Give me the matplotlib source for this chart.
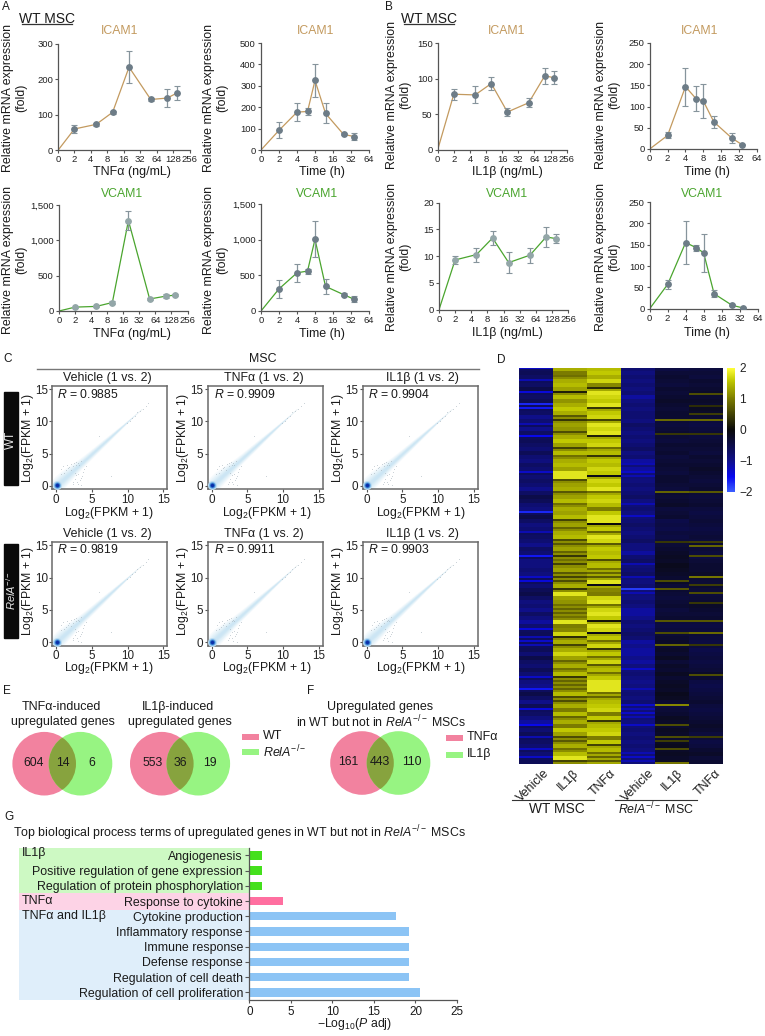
import numpy as np
import matplotlib
matplotlib.use("Agg")
import matplotlib.pyplot as plt
from matplotlib.colors import LinearSegmentedColormap
from matplotlib.patches import Circle, Rectangle

plt.rcParams['font.family'] = ['Liberation Sans', 'DejaVu Sans']
plt.rcParams['mathtext.fontset'] = 'custom'
plt.rcParams['mathtext.rm'] = 'Liberation Sans'
plt.rcParams['mathtext.it'] = 'Liberation Sans:italic'
plt.rcParams['mathtext.bf'] = 'Liberation Sans:bold'

W, H = 765, 1036

# panels A and B
dose = [1, 2, 5, 10, 20, 50, 100, 150]
hours = [1, 2, 4, 6, 8, 12, 24, 36]
dose_ticks = [1, 2, 4, 8, 16, 32, 64, 128, 256]
dose_labels = ['0', '2', '4', '8', '16', '32', '64', '128', '256']
time_ticks = [1, 2, 4, 8, 16, 32, 64]
time_labels = ['0', '2', '4', '8', '16', '32', '64']

a_icam_dose = [0, 60, 73, 107, 234, 143, 147, 161]
a_icam_dose_err = [0, 10, 4, 5, 45, 4, 25, 20]
a_icam_time = [0, 92, 177, 180, 325, 171, 73, 63]
a_icam_time_err = [0, 38, 42, 17, 75, 47, 5, 17]
a_vcam_dose = [0, 55, 65, 120, 1280, 170, 210, 225]
a_vcam_dose_err = [0, 8, 8, 15, 130, 20, 30, 15]
a_vcam_time = [0, 310, 535, 560, 1005, 345, 230, 165]
a_vcam_time_err = [0, 125, 130, 35, 250, 110, 25, 40]
b_icam_dose = [0, 78, 77, 93, 53, 66, 104, 101]
b_icam_dose_err = [0, 8, 12, 9, 6, 6, 11, 9]
b_icam_time = [0, 32, 147, 119, 113, 64, 26, 10]
b_icam_time_err = [0, 7, 45, 30, 41, 15, 12, 1]
b_vcam_dose = [0, 9.3, 10.3, 13.4, 8.8, 10.2, 13.6, 13.3]
b_vcam_dose_err = [0, 0.7, 1.3, 1.3, 2, 1.4, 1.8, 0.9]
b_vcam_time = [0, 57, 155, 143, 131, 35, 8, 2]
b_vcam_time_err = [0, 11, 50, 7, 45, 8, 2, 1]

# panel C
r_values = ['0.9885', '0.9909', '0.9904', '0.9819', '0.9911', '0.9903']
c_titles = ['Vehicle (1 vs. 2)', 'TNFα (1 vs. 2)', 'IL1β (1 vs. 2)']
band_x = [-0.6, 0, 0.5, 1, 2, 3, 4, 5, 6, 7, 8, 9, 10, 11, 12]
band_w = [1.5, 1.6, 1.6, 1.5, 1.25, 1.0, 0.85, 0.75, 0.65, 0.55, 0.42, 0.3, 0.18, 0.08, 0.03]
spot_x = [0.7, 1.0, 1.3, 1.5, 1.8, 2.1, 2.4, 2.7, 3.0, 3.4, 0.6, 1.1, 1.6, 2.0, 2.5, 2.8, 3.2,
          2.3, 2.6, 2.9, 3.1, 3.4, 3.7, 3.9, 2.4, 2.8, 3.3, 3.6, 4.1, 2.6, 3.0, 3.5,
          9.9, 10.3, 10.6, 11.0, 11.3, 11.7, 12.1, 12.5, 12.9, 7.6, 6.0]
spot_y = [2.6, 3.1, 2.4, 3.3, 2.9, 3.4, 3.0, 3.7, 3.5, 3.9, 1.9, 2.0, 2.7, 2.5, 3.6, 3.2, 3.3,
          0.3, 1.1, 0.6, 1.8, 1.2, 2.2, 2.6, 0.6, 1.6, 0.9, 1.5, 3.1, 2.0, 0.2, 0.1,
          9.8, 10.1, 10.5, 10.9, 11.4, 11.6, 12.0, 12.4, 12.9, 1.5, 7.7]

# panel D, one list per column, top row first
d_col1 = [-1.3, -.6, -.7, -1.2, -.7, -.5, -1.4, -.7, -.6, -1.7,
          -1.6, -.7, -1.0, -.8, -1.2, -1.0, -.7, -1.5, -.6, -.7,
          -.8, -.6, -.8, -.9, -.7, -.8, -1.3, -.8, -.7, -.8,
          -1.0, -.7, -.5, -.6, -.8, -.9, -1.7, -.5, -.7, -.9,
          -.8, -1.2, -.7, -.8, -1.0, -.7, -.8, -1.6, -.9, -.9,
          -.8, -.9, -1.3, -1.4, -.8, -.6, -.5, -.7, -.9, -.8,
          -1.0, -.7, -.9, -1.1, -.8, -1.4, -.6, -1.2, -1.3, -1.2,
          -.6, -.8, -.5, -.7, -.8, -.6, -.8, -1.3, -.9, -1.0,
          -1.6, -.5, -.7, -1.0, -.6, -1.4, -.7, -.9, -1.1, -1.5,
          -.8, -.6, -1.2, -.7, -.8, -1.3, -.8, -1.3, -.6]
d_col2 = [1.4, 1.0, .9, 1.4, 1.5, 1.3, .2, 1.5, 1.2, 1.4,
          1.6, 1.4, .7, .4, 1.3, 1.2, .6, 1.4, 1.6, 1.3,
          .5, 1.5, .9, 1.4, 1.5, 1.3, 1.9, 1.95, .6, 1.3,
          1.4, .7, 1.3, 1.5, .9, 1.4, 1.3, 1.5, .5, 1.3,
          .8, 1.4, 1.5, .6, .7, 1.3, .8, .4, .9, .5,
          1.3, .7, .5, .6, 1.4, .4, 1.8, 1.3, 1.2, .9,
          .8, .8, .9, 1.8, 1.0, 1.1, 1.7, .3, 1.4, .5,
          1.4, 1.7, 1.3, .8, 1.4, .9, 1.5, .4, .8, .8,
          .8, 1.5, .6, .6, 1.4, 1.0, 1.5, .8, 1.4, 1.0,
          1.6, 1.3, .6, .7, 1.4, .9, 1.5, 1.8, .5]
d_col3 = [1.5, 1.6, 1.4, 1.7, 1.1, .3, 1.8, 1.7, 1.6, 1.8,
          .4, 1.6, 1.7, .5, 1.8, 1.7, 1.8, .2, 1.6, 1.7,
          .9, 1.5, .4, 1.6, 1.5, 1.7, 1.6, -.1, 1.7, 1.6,
          1.8, .9, 1.6, 1.7, 1.5, 1.0, 1.6, 1.8, 1.9, .0,
          1.6, .8, 1.8, 1.7, .7, 1.6, 1.5, 1.6, .6, 1.5,
          .9, .8, .7, 1.95, -.1, 1.1, 1.0, 1.7, 1.8, .9,
          1.7, 1.8, 1.6, .1, 1.8, 1.7, -.1, 1.6, .9, 1.7,
          .4, 1.6, .9, 1.7, .7, 1.5, .9, 1.6, 1.95, 1.95,
          1.95, .9, .8, 1.5, 1.6, 1.7, 1.0, 1.6, .4, 1.5,
          1.6, 1.7, 1.0, 1.6, .5, 1.5, .9, .8, .7]
d_col4 = [-.8, -.9, -.8, -.9, -.8, -.9, -.8, -1.1, -.9, -.8,
          -.9, -.8, -.8, -.9, -.7, -.8, -.9, -.8, -.9, -.8,
          -.7, -.9, -.8, -1.1, -1.2, -1.1, -1.3, -1.2, -.9, -.8,
          -.9, -.8, -.7, -.9, -1.2, -.8, -.9, -1.3, -.8, -.7,
          -.8, -.9, -.8, -.7, -.9, -.9, -1.1, -.8, -.7, -1.2,
          -.8, -.7, -1.2, -.9, -.8, -1.8, -1.2, -.9, -.8, -.9,
          -1.1, -1.1, -1.0, -.8, -.9, -.8, -.7, -.8, -1.1, -1.0,
          -1.1, -1.1, -1.0, -1.1, -.9, -1.3, -.8, -.9, -1.0, -.9,
          -1.2, -.8, -.9, -.8, -1.3, -1.2, -1.3, -1.2, -.9, -1.3,
          -.8, -.9, -.8, -.9, -.8, -.9, -1.2, -1.3, -1.2]
d_col5 = [-.45, -.35, -.3, -.35, -.4, -.3, -.35, -.3, -.25, -.3,
          -.35, -.3, -.3, -.35, -.4, -.35, -.3, -.35, -.4, -.3,
          -.35, -.3, -.4, -.35, -.3, -.35, -.4, -.3, -.3, -.35,
          -.4, -.3, -.35, -.3, -.25, -.4, -.35, -.3, -.5, -.45,
          -.5, -.4, -.45, -.4, -.35, -.3, -.25, -.2, -.25, -.15,
          -.2, -.25, -.3, -.25, -.35, -.3, -.35, -.4, -.35, -.3,
          -.4, -.35, -.3, -.4, -.45, -.4, -.35, -.3, -.25, -.3,
          -.25, -.3, -.2, -.35, -.25, -.3, -.2, -.3, -.25, -.2,
          -.25, -.15, -.2, -.3, -.4, -.35, -.3, -.2, -.25, -.3,
          -.2, -.25, -.3, -.2, -.15, -.25, -.2, -.25, -.2]
d_col6 = [-.4, -.35, -.4, -.3, -.35, -.3, -.25, -.3, -.25, -.3,
          -.2, -.25, -.3, -.4, -.45, -.4, -.35, -.4, -.35, -.3,
          -.35, -.4, -.3, -.35, -.3, -.25, -.3, -.35, -.4, -.35,
          -.3, -.35, -.4, -.35, -.3, -.4, -.45, -.4, -.35, -.4,
          -.45, -.4, -.35, -.4, -.3, -.35, -.4, -.45, -.35, -.3,
          -.3, -.25, -.3, -.35, -.3, -.35, -.4, -.35, -.3, -.25,
          -.3, -.35, -.3, -.4, -.45, -.4, -.35, -.4, -.45, -.4,
          -.5, -.45, -.4, -.45, -.4, -.35, -.25, -.3, -.45, -.5,
          -.45, -.4, -.35, -.3, -.4, -.45, -.4, -.35, -.3, -.25,
          -.3, -.4, -.35, -.45, -.4, -.3, -.25, -.35, -.3]
# thin one-row stripes on the 198 row grid
d_col5_rows = [26, 33, 62, 87, 106, 110, 126, 132, 138, 168, 178, 184, 186, 190, 197]
d_col5_vals = [.85, .4, .8, .4, .6, .7, .7, .6, .8, 1.1, .6, .6, .45, .6, .95]
d_col6_rows = [13, 19, 23, 26, 33, 62, 87, 89, 94, 104, 108, 112, 117, 126, 132, 138, 153, 184]
d_col6_vals = [.6, .3, .45, .85, .4, .7, .45, .8, .6, .95, .45, .6, .4, .7, .85, .4, .6, .45]
d_labels = ['Vehicle', 'IL1β', 'TNFα', 'Vehicle', 'IL1β', 'TNFα']
cbar_ticks = [2, 1, 0, -1, -2]

# panel G
g_terms = ['Angiogenesis', 'Positive regulation of gene expression',
           'Regulation of protein phosphorylation', 'Response to cytokine',
           'Cytokine production', 'Inflammatory response', 'Immune response',
           'Defense response', 'Regulation of cell death', 'Regulation of cell proliferation']
g_values = [1.5, 1.5, 1.5, 4.1, 17.7, 19.2, 19.2, 19.2, 19.2, 20.5]
g_colors = ['#44e01c'] * 3 + ['#ff6fa0'] + ['#8cc4f5'] * 6

TAN = '#c39a5f'
GREEN = '#4aa52e'
AXC = '#555555'

fig = plt.figure(figsize=(W / 100, H / 100), dpi=100)
bg = fig.add_axes([0, 0, 1, 1], zorder=-1)
bg.set_xlim(0, W)
bg.set_ylim(H, 0)
bg.axis('off')


def put(x, y, s, size=9, ha='center', **kw):
    bg.text(x, y, s, fontsize=size, ha=ha, va='center', color=kw.pop('color', '#1a1a1a'), **kw)


def px_axes(left, right, top, bottom):
    ax = fig.add_axes([left / W, 1 - bottom / H, (right - left) / W, (bottom - top) / H])
    ax.patch.set_alpha(0)
    return ax


def curve(box, x, y, err, ticks, labels, ymax, yticks, ylabs, color, mfc):
    ax = px_axes(*box)
    ax.set_xscale('log', base=2)
    ax.plot(x, y, color=color, lw=0.9, zorder=2)
    ax.errorbar(x[1:], y[1:], yerr=err[1:], fmt='o', ms=3.9, mfc=mfc, mec=mfc, ecolor='#86949c',
                elinewidth=0.9, capsize=2.2, capthick=0.8, zorder=3)
    ax.set_xlim(ticks[0], ticks[-1])
    ax.set_ylim(0, ymax)
    ax.minorticks_off()
    ax.set_xticks(ticks)
    ax.set_xticklabels(labels)
    ax.set_yticks(yticks)
    ax.set_yticklabels(ylabs)
    ax.tick_params(labelsize=6.8, length=2.2, width=0.8, pad=1.5, color=AXC, labelcolor='#222222')
    for s in ['top', 'right']:
        ax.spines[s].set_visible(False)
    for s in ['left', 'bottom']:
        ax.spines[s].set_color(AXC)
        ax.spines[s].set_linewidth(0.9)
    return ax


GRAY = '#6d7c87'
LGRAY = '#93a6a8'
y300 = [0, 100, 200, 300]
y500 = [0, 100, 200, 300, 400, 500]
y1500 = [0, 500, 1000, 1500]
l1500 = ['0', '500', '1,000', '1,500']
y150 = [0, 50, 100, 150]
y20 = [0, 5, 10, 15, 20]
y250 = [0, 50, 100, 150, 200, 250]

curve((58, 189.5, 43.7, 150.3), dose, a_icam_dose, a_icam_dose_err, dose_ticks, dose_labels, 300, y300, y300, TAN, GRAY)
curve((261, 369, 43, 150), hours, a_icam_time, a_icam_time_err, time_ticks, time_labels, 500, y500, y500, TAN, GRAY)
curve((59, 187.5, 205, 311), dose, a_vcam_dose, a_vcam_dose_err, dose_ticks, dose_labels, 1500, y1500, l1500, GREEN, LGRAY)
curve((261, 369, 204, 311), hours, a_vcam_time, a_vcam_time_err, time_ticks, time_labels, 1500, y1500, l1500, GREEN, GRAY)
curve((437.7, 566.7, 43, 149.7), dose, b_icam_dose, b_icam_dose_err, dose_ticks, dose_labels, 150, y150, y150, TAN, GRAY)
curve((649.7, 757, 43, 149), hours, b_icam_time, b_icam_time_err, time_ticks, time_labels, 250, y250, y250, TAN, GRAY)
curve((439, 568, 202.7, 309.7), dose, b_vcam_dose, b_vcam_dose_err, dose_ticks, dose_labels, 20, y20, y20, GREEN, LGRAY)
curve((649.7, 757.5, 202, 308.7), hours, b_vcam_time, b_vcam_time_err, time_ticks, time_labels, 250, y250, y250, GREEN, GRAY)

ylab = 'Relative mRNA expression\n(fold)'
for x, y in [(15, 98), (216, 98), (15, 260), (216, 260), (399, 95), (608, 95), (399, 257), (608, 257)]:
    put(x, y, ylab, 8.9, rotation=90, linespacing=1.15)
for x, y, s in [(132, 172, 'TNFα (ng/mL)'), (321.7, 172, 'Time (h)'), (132, 334, 'TNFα (ng/mL)'), (321.7, 334, 'Time (h)'),
                (507, 172, 'IL1β (ng/mL)'), (706.7, 172, 'Time (h)'), (507, 333, 'IL1β (ng/mL)'), (706.7, 333, 'Time (h)')]:
    put(x, y, s, 9)
for x, y in [(120, 30.7), (316, 30.7), (506.7, 30.7), (700, 30.7)]:
    put(x, y, 'ICAM1', 8.8, color=TAN)
for x, y in [(121.7, 194), (316.7, 194), (506.7, 194), (702.3, 194)]:
    put(x, y, 'VCAM1', 8.8, color=GREEN)

for x0, x1 in [(21.7, 71.7), (404, 454)]:
    put((x0 + x1) / 2, 19, 'WT MSC', 10)
    bg.plot([x0, x1], [24.3, 24.3], color='#333333', lw=0.9)
for x, y, s in [(6, 7, 'A'), (389, 7, 'B'), (8, 359, 'C'), (501.7, 360, 'D'), (7, 691, 'E'), (311, 691, 'F'), (9, 817, 'G')]:
    put(x, y, s, 8.5)

# panel C
put(262.7, 359, 'MSC', 8.9)
bg.plot([37.3, 478.7], [369, 369], color='#777777', lw=1)
bg.add_patch(Rectangle((4.3, 391.7), 13.7, 93.3, color='#0a0a0a'))
bg.add_patch(Rectangle((4.3, 544.3), 13.7, 93.4, color='#0a0a0a'))
bg.text(11.2, 440, 'WT', fontsize=8.5, color='#e8e8e8', rotation=90, ha='center', va='center', zorder=5)
bg.text(11.2, 590, r'$\mathit{RelA}^{-/-}$', fontsize=8, color='#e8e8e8', rotation=90, ha='center', va='center', zorder=5)

c_rows = [(385.7, 489.3, 378.3, 394.3, 437.7, 513.3), (541.7, 645.7, 534, 549.3, 591, 668.5)]
c_cols = [(52.3, 167.3, 107.3, 57.3, 28.3, 109.3), (207.7, 322.7, 264, 214.3, 182.7, 266.7), (362.7, 477.7, 422.7, 368.3, 338.3, 421)]
band_x_arr = np.array(band_x)
band_w_arr = np.array(band_w)
k = 0
for top, bottom, ty, ry, ly, xy in c_rows:
    for (left, right, tx, rx, lx, xx), title in zip(c_cols, c_titles):
        ax = px_axes(left, right, top, bottom)
        for frac in [1.0, 0.8, 0.65, 0.5, 0.38, 0.28, 0.18]:
            ax.fill_between(band_x_arr, band_x_arr - band_w_arr * frac, band_x_arr + band_w_arr * frac,
                            color='#a5d4ee', alpha=0.1, lw=0)
        ax.scatter(spot_x, spot_y, s=0.35, color='#9aa8b2', alpha=0.55, lw=0)
        for size, col in [(42, '#bcdcf2'), (24, '#6fb0e6'), (13, '#2f74cc'), (6, '#0a2fa8')]:
            ax.scatter([0.05], [0.05], s=size, color=col, lw=0, zorder=3)
        ax.set_xlim(-0.55, 15.55)
        ax.set_ylim(-0.55, 15.55)
        ax.set_xticks([0, 5, 10, 15])
        ax.set_yticks([0, 5, 10, 15])
        ax.tick_params(labelsize=8.4, length=2, width=0.8, pad=1.2, color=AXC, labelcolor='#222222')
        for s in ax.spines.values():
            s.set_color('#6a6a6a')
            s.set_linewidth(1.1)
        put(tx, ty, title, 8.9)
        put(rx, ry, r'$\mathit{R}$ = ' + r_values[k], 8.8, ha='left')
        put(lx, ly, r'Log$_2$(FPKM + 1)', 8.8, rotation=90)
        put(xx, xy, r'Log$_2$(FPKM + 1)', 8.8)
        k += 1


# panel D
def thin_stripes(col, low, high, rest):
    # a typed value outside low..high only fills the first of its two rows
    out = np.repeat(np.array(col, dtype=float), 2)
    for i in range(1, len(out), 2):
        if out[i] < low or out[i] > high:
            out[i] = rest
    return out


cmap = LinearSegmentedColormap.from_list('d', [(0, '#3a5cff'), (0.12, '#0808f0'), (0.25, '#10108a'), (0.5, '#0a0a0a'),
                                               (0.75, '#7a7a00'), (0.9, '#c0c800'), (1, '#ffff3a')])
matrix = np.column_stack([thin_stripes(d_col1, -1.1, 0, -0.65), thin_stripes(d_col2, 1.0, 2, 1.15),
                          thin_stripes(d_col3, 1.0, 2, 1.35), thin_stripes(d_col4, -1.1, 0, -0.85),
                          thin_stripes(d_col5, -1, 0, -0.3), thin_stripes(d_col6, -1, 0, -0.35)])
matrix[d_col5_rows, 4] = d_col5_vals
matrix[d_col6_rows, 5] = d_col6_vals
matrix = np.minimum(matrix, 1.8)
ax = px_axes(519.3, 723, 368, 764.3)
im = ax.imshow(matrix, cmap=cmap, vmin=-2, vmax=2, aspect='auto', interpolation='nearest')
ax.axis('off')
cax = px_axes(727.3, 735, 368, 491.7)
cb = fig.colorbar(im, cax=cax, ticks=cbar_ticks)
cb.outline.set_visible(False)
cb.ax.tick_params(length=0, labelsize=8.6, pad=3, labelcolor='#222222')
label_ends = [543, 573, 610, 648, 677, 715]
for x, s in zip(label_ends, d_labels):
    bg.text(x, 767, s, fontsize=9, rotation=45, ha='right', va='top', rotation_mode='anchor', color='#1a1a1a')
bg.plot([511.7, 594.3], [800.3, 800.3], color='#333333', lw=0.8)
bg.plot([615, 696.7], [800.3, 800.3], color='#333333', lw=0.8)
put(556.7, 809, 'WT MSC', 9.9)
put(655.7, 809, r'$\mathit{RelA}^{-/-}$ MSC', 8.9)


# venns
def venn(x1, x2, y, texts):
    a = Circle((x1, y), 31.8, color='#f2829f', lw=0)
    b = Circle((x2, y), 31.8, color='#97f482', lw=0)
    bg.add_patch(a)
    bg.add_patch(b)
    mid = Circle((x1, y), 31.8, color='#87a33e', lw=0)
    bg.add_patch(mid)
    mid.set_clip_path(Circle((x2, y), 31.8, transform=bg.transData))
    for tx, s in zip(texts[0], texts[1]):
        put(tx, y - 1, s, 8.8)


venn(44.2, 80.5, 763.7, ([34, 62.7, 91.7], ['604', '14', '6']))
venn(161.8, 198.3, 763.7, ([152.3, 180.3, 210.3], ['553', '36', '19']))
venn(362, 398.5, 763, ([348.7, 380.3, 411.7], ['161', '443', '110']))
put(61, 706.7, 'TNFα-induced', 9)
put(63, 721.7, 'upregulated genes', 9)
put(178.3, 706.7, 'IL1β-induced', 9)
put(180, 721.7, 'upregulated genes', 9)
put(380, 706.7, 'Upregulated genes', 9)
put(381.7, 721.7, r'in WT but not in $\mathit{RelA}^{-/-}$ MSCs', 8.8)
for x, y, col, s in [(242, 736.7, '#f2829f', 'WT'), (242, 752, '#97f482', r'$\mathit{RelA}^{-/-}$'),
                     (445.7, 737.5, '#f2829f', 'TNFα'), (445.7, 755, '#97f482', 'IL1β')]:
    bg.add_patch(Rectangle((x, y - 3), 17.3, 6, color=col, lw=0))
    put(x + 21, y - 0.5, s, 9, ha='left')

# panel G
put(13, 832.7, r'Top biological process terms of upregulated genes in WT but not in $\mathit{RelA}^{-/-}$ MSCs', 8.88, ha='left')
bg.add_patch(Rectangle((19, 847.7), 230.3, 44.9, color='#cdf9c3', lw=0))
bg.add_patch(Rectangle((19, 892.6), 230.3, 17, color='#fdd3e6', lw=0))
bg.add_patch(Rectangle((19, 909.6), 230.3, 90.4, color='#dfeefa', lw=0))
put(22, 853, 'IL1β', 9, ha='left')
put(22, 901, 'TNFα', 9, ha='left')
put(22, 915.7, 'TNFα and IL1β', 9, ha='left')
ax = px_axes(249.3, 457, 847.7, 1000)
ax.barh(np.arange(len(g_values)), g_values, height=0.55, color=g_colors)
ax.set_ylim(len(g_values) - 0.5, -0.5)
ax.set_xlim(0, 25)
ax.set_yticks(np.arange(len(g_values)))
ax.set_yticklabels(g_terms)
ax.set_xticks([0, 5, 10, 15, 20, 25])
ax.tick_params(axis='y', labelsize=8.95, length=3, width=0.8, pad=1.5, color=AXC, labelcolor='#1a1a1a')
ax.tick_params(axis='x', labelsize=8.4, length=2.5, width=0.8, pad=1.5, color=AXC, labelcolor='#1a1a1a')
for s in ['top', 'right']:
    ax.spines[s].set_visible(False)
for s in ['left', 'bottom']:
    ax.spines[s].set_color(AXC)
    ax.spines[s].set_linewidth(0.9)
put(354, 1024, r'$-$Log$_{10}$($\mathit{P}$ adj)', 8.8)

fig.savefig('out.png', dpi=100)
